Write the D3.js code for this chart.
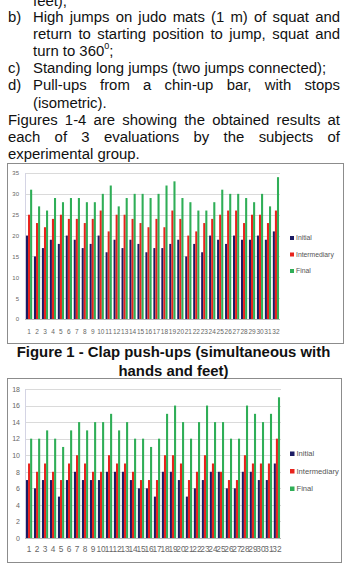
<!DOCTYPE html>
<html>
<head>
<meta charset="utf-8">
<script src="https://cdn.jsdelivr.net/npm/d3@7"></script>
<style>
  body { margin: 0; background: #fff; }
  svg { display: block; }
</style>
</head>
<body>
<div id="page"></div>
<script>
// subjects 1..32, three evaluations
var subjects = ["1","2","3","4","5","6","7","8","9","10","11","12","13","14","15","16",
                "17","18","19","20","21","22","23","24","25","26","27","28","29","30","31","32"];
var seriesNames = ["Initial", "Intermediary", "Final"];
var seriesColors = ["#1b1b63", "#e8231c", "#2fae57"];

// Figure 1 - clap push-ups
var fig1Initial = [20,15,17,19,18,20,19,17,18,20,16,19,17,19,18,16,17,17,18,19,15,18,16,20,19,18,20,19,19,20,19,21];
var fig1Interm  = [25,23,22,24,25,24,24,23,24,26,21,25,25,24,23,22,24,22,26,24,20,21,23,24,25,26,26,23,25,25,23,26];
var fig1Final   = [31,27,26,29,28,29,29,28,28,30,32,27,29,30,30,29,30,32,33,29,28,26,26,28,31,30,30,29,28,30,27,34];
var fig1Ticks   = [0,5,10,15,20,25,30,35];

// Figure 2 - high jumps
var fig2Initial = [7,6,7,7,5,7,8,7,7,7,8,8,8,7,6,6,5,8,8,7,5,6,7,8,8,6,6,8,8,7,7,9];
var fig2Interm  = [9,8,9,8,7,9,10,9,8,8,10,9,9,8,7,7,7,10,10,9,7,8,10,9,8,7,7,10,9,9,9,12];
var fig2Final   = [12,12,13,12,11,13,14,13,14,14,15,13,14,12,12,11,12,15,16,14,12,14,16,14,14,12,12,16,15,14,15,17];
var fig2Ticks   = [0,2,4,6,8,10,12,14,16,18];

var W = 345, H = 563;
var textFont = "'Liberation Sans', Arial, sans-serif";

var svg = d3.select("#page").append("svg")
    .attr("width", W)
    .attr("height", H);

// ---- body text ----
var fs = 14.9;

function textLine(txt, x0, x1, y, justify) {
    var g = svg.append("g").attr("font-family", textFont).attr("font-size", fs).attr("fill", "#111");
    var words = txt.split(" ");
    var nodes = words.map(function(w) {
        return g.append("text").attr("y", y).text(w);
    });
    var widths = nodes.map(function(n) { return n.node().getComputedTextLength(); });
    var total = d3.sum(widths);
    var gap = justify && words.length > 1 ? (x1 - x0 - total) / (words.length - 1) : fs * 0.278;
    var x = x0;
    nodes.forEach(function(n, i) {
        n.attr("x", x);
        x += widths[i] + gap;
    });
}

var lh = 17.1, y0 = 22;
textLine("feet);", 33, 340, y0 - lh + 1, false);
textLine("b)", 8, 30, y0, false);
textLine("High jumps on judo mats (1 m) of squat and", 33, 340, y0, true);
textLine("return to starting position to jump, squat and", 33, 340, y0 + lh, true);

var t360 = svg.append("text")
    .attr("x", 33).attr("y", y0 + 2 * lh)
    .attr("font-family", textFont).attr("font-size", fs).attr("fill", "#111");
t360.append("tspan").text("turn to 360");
t360.append("tspan").attr("font-size", 9).attr("dy", -7).text("0");
t360.append("tspan").attr("dy", 7).text(";");

textLine("c)", 8, 30, y0 + 3 * lh, false);
textLine("Standing long jumps (two jumps connected);", 33, 340, y0 + 3 * lh, false);
textLine("d)", 8, 30, y0 + 4 * lh, false);
textLine("Pull-ups from a chin-up bar, with stops", 33, 340, y0 + 4 * lh, true);
textLine("(isometric).", 33, 340, y0 + 5 * lh, false);
textLine("Figures 1-4 are showing the obtained results at", 8, 340, y0 + 6 * lh, true);
textLine("each of 3 evaluations by the subjects of", 8, 340, y0 + 7 * lh, true);
textLine("experimental group.", 8, 340, y0 + 8 * lh, false);

// ---- charts ----
function drawChart(opt) {
    var g = svg.append("g");

    g.append("rect")
        .attr("x", opt.box[0] + 0.5).attr("y", opt.box[1] + 0.5)
        .attr("width", opt.box[2]).attr("height", opt.box[3])
        .attr("fill", "#fff").attr("stroke", "#8c8c8c").attr("stroke-width", 1);

    var x = d3.scaleBand().domain(subjects).range([opt.left, opt.right]).paddingInner(0.22).paddingOuter(0.12);
    var xs = d3.scaleBand().domain(seriesNames).range([0, x.bandwidth()]);
    var y = d3.scaleLinear().domain([0, opt.max]).range([opt.bottom, opt.top]);

    // grid
    g.append("g").selectAll("line").data(opt.ticks).enter().append("line")
        .attr("x1", opt.left).attr("x2", opt.right)
        .attr("y1", function(d) { return Math.round(y(d)) + 0.5; })
        .attr("y2", function(d) { return Math.round(y(d)) + 0.5; })
        .attr("stroke", function(d) { return d === 0 ? "#b8b8b8" : "#dadada"; })
        .attr("stroke-width", 1);

    g.append("line")
        .attr("x1", opt.left + 0.5).attr("x2", opt.left + 0.5)
        .attr("y1", opt.top).attr("y2", opt.bottom)
        .attr("stroke", "#d4d4e4");

    // y axis labels
    var yAxis = d3.axisLeft(y).tickValues(opt.ticks).tickSize(0).tickPadding(0);
    var ya = g.append("g").attr("transform", "translate(" + opt.yLabelX + ",0)").call(yAxis);
    ya.select(".domain").remove();
    ya.selectAll("text").attr("font-family", textFont).attr("font-size", opt.yfs).attr("fill", "#666");

    // x axis labels
    var xAxis = d3.axisBottom(x).tickSize(0).tickPadding(0);
    var xa = g.append("g").attr("transform", "translate(0," + opt.xLabelY + ")").call(xAxis);
    xa.select(".domain").remove();
    xa.selectAll("text").attr("font-family", textFont).attr("font-size", opt.xfs).attr("fill", "#666");

    // bars
    var rows = subjects.map(function(s, i) {
        return { s: s, v: [opt.series[0][i], opt.series[1][i], opt.series[2][i]] };
    });
    var grp = g.append("g").selectAll("g").data(rows).enter().append("g")
        .attr("transform", function(d) { return "translate(" + x(d.s) + ",0)"; });
    grp.selectAll("rect").data(function(d) {
        return d.v.map(function(v, k) { return { k: seriesNames[k], c: seriesColors[k], v: v }; });
    }).enter().append("rect")
        .attr("x", function(d) { return xs(d.k); })
        .attr("width", xs.bandwidth())
        .attr("y", function(d) { return y(d.v); })
        .attr("height", function(d) { return y(0) - y(d.v); })
        .attr("fill", function(d) { return d.c; });

    // legend
    var lg = g.append("g").selectAll("g").data(seriesNames).enter().append("g")
        .attr("transform", function(d, i) { return "translate(" + opt.legX + "," + (opt.legY + i * opt.legStep) + ")"; });
    lg.append("rect").attr("x", 0).attr("y", -opt.lsq).attr("width", opt.lsq).attr("height", opt.lsq)
        .attr("fill", function(d, i) { return seriesColors[i]; });
    lg.append("text").attr("x", opt.lsq + 2).attr("y", 0)
        .attr("font-family", textFont).attr("font-size", opt.lfs).attr("fill", "#555")
        .text(function(d) { return d; });
}

drawChart({
    box: [7, 163, 336, 180],
    left: 25, right: 280, top: 173, bottom: 319, max: 35, ticks: fig1Ticks,
    series: [fig1Initial, fig1Interm, fig1Final],
    yLabelX: 19, yfs: 6, xLabelY: 329, xfs: 6.5,
    legX: 290, legY: 240, legStep: 16.5, lsq: 4, lfs: 6.8
});

drawChart({
    box: [7, 378, 334, 184],
    left: 25, right: 281, top: 389, bottom: 538, max: 18, ticks: fig2Ticks,
    series: [fig2Initial, fig2Interm, fig2Final],
    yLabelX: 20, yfs: 7, xLabelY: 546, xfs: 8.3,
    legX: 290, legY: 456, legStep: 17.5, lsq: 4.5, lfs: 7.6
});

// caption of figure 1
var cap = svg.append("g").attr("font-family", textFont).attr("font-size", fs)
    .attr("font-weight", "bold").attr("fill", "#111").attr("text-anchor", "middle");
cap.append("text").attr("x", 173.5).attr("y", 356.5).text("Figure 1 - Clap push-ups (simultaneous with");
cap.append("text").attr("x", 173.5).attr("y", 375.5).text("hands and feet)");
</script>
</body>
</html>
